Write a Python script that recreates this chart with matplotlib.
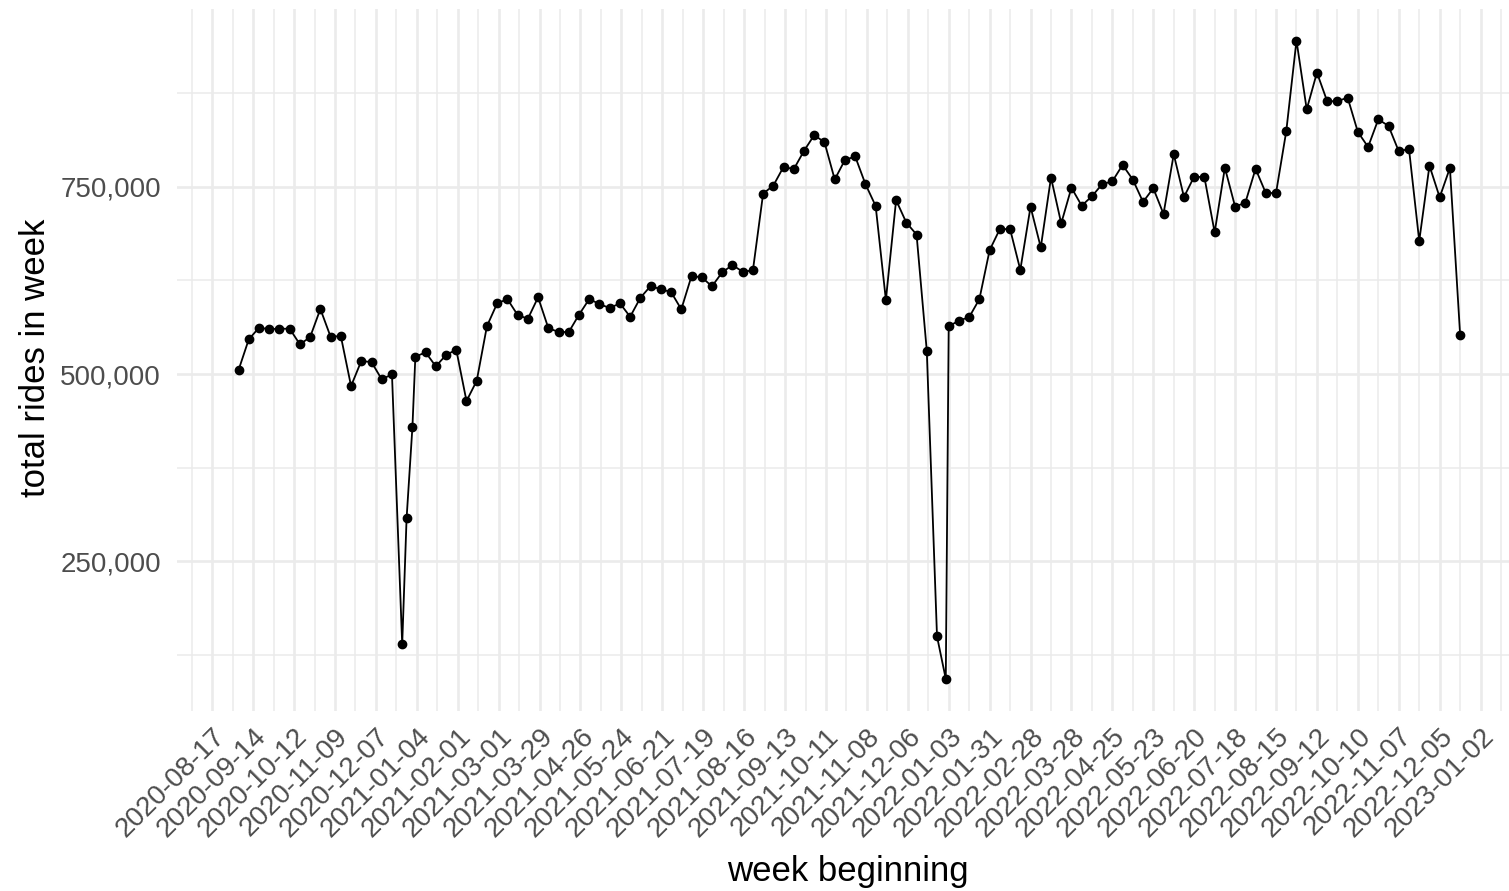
#!/usr/bin/env python3
"""
Total weekly rides, one point per "week beginning" date.
Style close to ggplot2 theme_minimal (light grid, no spines, no ticks).
"""
import matplotlib
matplotlib.use("Agg")
import matplotlib.pyplot as plt
import matplotlib.dates as mdates
from matplotlib.ticker import FuncFormatter, FixedLocator
import pandas as pd

# ── Data ───────────────────────────────────────────────────────────────────────
# 2020 weeks begin on Fridays
weeks_2020 = pd.date_range("2020-09-04", "2020-12-25", freq="7D")
rides_2020 = [505300, 546300, 561800, 560000, 560500, 560500, 539600, 549400,
              586800, 549800, 550700, 484000, 517400, 516000, 492900, 499600,
              139200]

# short weeks around the turn of the year
weeks_turn_2021 = pd.to_datetime(["2020-12-28", "2021-01-01"])
rides_turn_2021 = [307400, 429300]

# 2021 weeks begin on Sundays
weeks_2021 = pd.date_range("2021-01-03", "2021-12-26", freq="7D")
rides_2021 = [523100, 529000, 510300, 525400, 532500, 464000, 491000, 564000,
              594400, 600000, 578800, 573800, 602400, 561400, 556100, 556100,
              579200, 600100, 593400, 588100, 594400, 576500, 601800, 617500,
              613100, 609500, 586400, 630800, 629100, 617100, 635800, 645500,
              636600, 638300, 740900, 751600, 776600, 773500, 798000, 819000,
              809300, 759700, 785800, 790400, 753600, 724400, 598900, 732100,
              702100, 686200, 531000, 149800]

weeks_turn_2022 = pd.to_datetime(["2022-01-01"])
rides_turn_2022 = [93100]

# 2022 weeks begin on Mondays
weeks_2022 = pd.date_range("2022-01-03", "2022-12-19", freq="7D")
rides_2022 = [563700, 571300, 575900, 600000, 665300, 693500, 693500, 639000,
              723300, 669000, 762300, 701100, 748700, 724700, 737300, 753300,
              757300, 779100, 759500, 729700, 748000, 713700, 793400, 736300,
              763600, 762600, 689100, 775400, 723400, 728700, 773900, 741600,
              741600, 824000, 945100, 853300, 902300, 864100, 864100, 869000,
              823100, 803100, 840000, 831100, 797300, 800400, 677600, 778100,
              735900, 775100, 552100]

y_breaks = [250000, 500000, 750000]
y_minor = [125000, 375000, 625000, 875000]
x_breaks = pd.date_range("2020-08-17", "2023-01-02", freq="28D")
x_minor = pd.date_range("2020-08-03", "2023-01-16", freq="28D")

# ── Style ──────────────────────────────────────────────────────────────────────
GRID = "#EBEBEB"
TICK_COL = "#4D4D4D"
plt.rcParams["font.family"] = ["Liberation Sans", "DejaVu Sans"]

weeks = (list(weeks_2020) + list(weeks_turn_2021) + list(weeks_2021)
         + list(weeks_turn_2022) + list(weeks_2022))
rides = rides_2020 + rides_turn_2021 + rides_2021 + rides_turn_2022 + rides_2022
df = pd.DataFrame({"week": pd.to_datetime(weeks), "rides": rides}).sort_values("week")

fig = plt.figure(figsize=(15.09, 8.91), dpi=100)
ax = fig.add_axes([0.1176, 0.2022, 0.8905, 0.7881])

ax.plot(df["week"], df["rides"], color="black", lw=1.3, zorder=3)
ax.plot(df["week"], df["rides"], "o", color="black", ms=6.0, zorder=4)

# ggplot-style 5 % expansion
x0 = mdates.date2num(df["week"].min())
x1 = mdates.date2num(df["week"].max())
ax.set_xlim(x0 - 0.05 * (x1 - x0), x1 + 0.05 * (x1 - x0))
y0, y1 = min(rides), max(rides)
ax.set_ylim(y0 - 0.05 * (y1 - y0), y1 + 0.05 * (y1 - y0))

ax.xaxis.set_major_locator(FixedLocator(mdates.date2num(x_breaks)))
ax.xaxis.set_minor_locator(FixedLocator(mdates.date2num(x_minor)))
ax.xaxis.set_major_formatter(mdates.DateFormatter("%Y-%m-%d"))
ax.yaxis.set_major_locator(FixedLocator(y_breaks))
ax.yaxis.set_minor_locator(FixedLocator(y_minor))
ax.yaxis.set_major_formatter(FuncFormatter(lambda v, _: f"{v:,.0f}"))

ax.grid(which="major", color=GRID, lw=1.9, zorder=0)
ax.grid(which="minor", color=GRID, lw=1.1, zorder=0)
ax.set_axisbelow(True)
for s in ax.spines.values():
    s.set_visible(False)

ax.tick_params(which="both", length=0)
ax.tick_params(axis="y", labelsize=20, labelcolor=TICK_COL, pad=12)
ax.tick_params(axis="x", labelsize=20, labelcolor=TICK_COL, pad=9)
for lab in ax.get_xticklabels():
    lab.set_rotation(45)
    lab.set_ha("right")
    lab.set_va("top")
    lab.set_rotation_mode("anchor")

fig.text(0.5620, 1 - 872 / 891, "week beginning", fontsize=25,
         ha="center", va="center")
fig.text(36 / 1509, 1 - 358 / 891, "total rides in week", fontsize=25,
         ha="center", va="center", rotation=90)

fig.savefig("out.png", dpi=100, facecolor="white")
